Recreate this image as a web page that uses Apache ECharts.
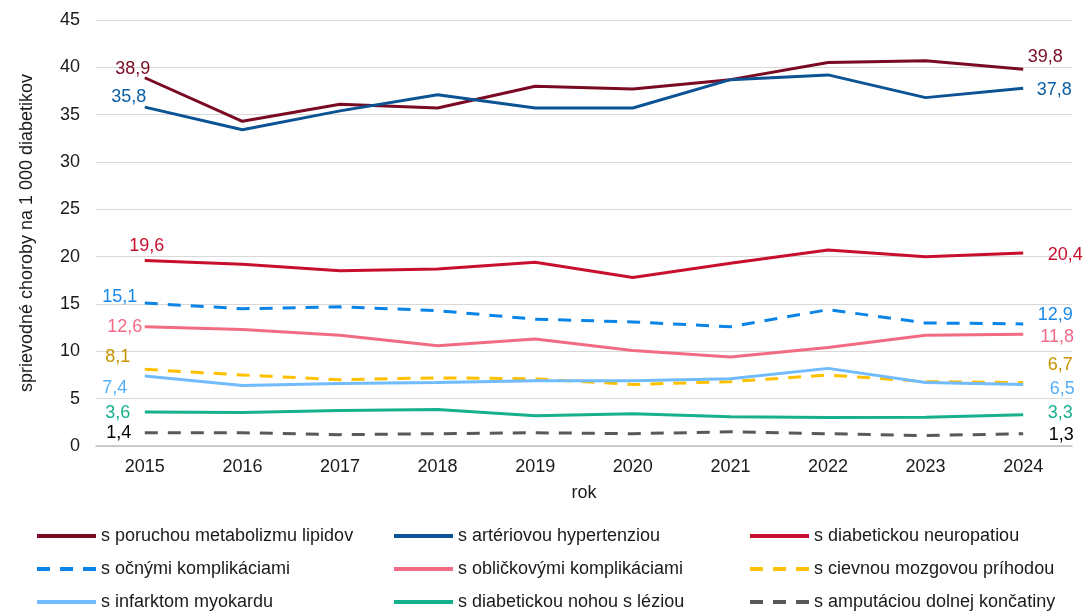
<!DOCTYPE html>
<html>
<head>
<meta charset="utf-8">
<script src="https://cdn.jsdelivr.net/npm/echarts@6/dist/echarts.min.js"></script>
<style>
  html, body { margin: 0; padding: 0; background: #fff; }
  #chart { width: 1085px; height: 612px; }
</style>
</head>
<body>
<div id="chart"></div>
<script>
(function () {
    'use strict';

    var years = ['2015', '2016', '2017', '2018', '2019', '2020', '2021', '2022', '2023', '2024'];

    var lipidy      = [38.9, 34.3, 36.1, 35.7, 38.0, 37.7, 38.7, 40.5, 40.7, 39.8];
    var hypertenzia = [35.8, 33.4, 35.4, 37.1, 35.7, 35.7, 38.7, 39.2, 36.8, 37.8];
    var neuropatia  = [19.6, 19.2, 18.5, 18.7, 19.4, 17.8, 19.3, 20.7, 20.0, 20.4];
    var ocne        = [15.1, 14.5, 14.7, 14.3, 13.4, 13.1, 12.6, 14.4, 13.0, 12.9];
    var oblickove   = [12.6, 12.3, 11.7, 10.6, 11.3, 10.1, 9.4, 10.4, 11.7, 11.8];
    var mozgove     = [8.1, 7.5, 7.0, 7.2, 7.1, 6.5, 6.8, 7.5, 6.8, 6.7];
    var infarkt     = [7.4, 6.4, 6.6, 6.7, 6.9, 6.9, 7.1, 8.2, 6.7, 6.5];
    var noha        = [3.6, 3.55, 3.75, 3.85, 3.2, 3.4, 3.1, 3.0, 3.05, 3.3];
    var amputacia   = [1.4, 1.4, 1.2, 1.3, 1.4, 1.3, 1.5, 1.3, 1.1, 1.3];

    var FONT = '"Liberation Sans", Arial, sans-serif';
    var FS = 18;

    // name, data, line colour, label colour, dashed, first label offset, last label offset, legend pos
    var defs = [
        ['s poruchou metabolizmu lipidov', lipidy, '#7A0A22', '#7A0A22', false, [-12, -9], [22, -12], [35, 0]],
        ['s artériovou hypertenziou', hypertenzia, '#0B5394', '#0B5FA5', false, [-16, -10], [31, 2], [392, 0]],
        ['s diabetickou neuropatiou', neuropatia, '#C8102E', '#C8102E', false, [2, -14], [42, 2], [748, 0]],
        ['s očnými komplikáciami', ocne, '#0A84E6', '#1A88E8', true, [-25, -6], [32, -9], [35, 1]],
        ['s obličkovými komplikáciami', oblickove, '#F26B84', '#F26B84', false, [-20, 0], [34, 3], [392, 1]],
        ['s cievnou mozgovou príhodou', mozgove, '#FFC000', '#C69400', true, [-27, -12], [37, -18], [748, 1]],
        ['s infarktom myokardu', infarkt, '#71BBFF', '#58AEF5', false, [-30, 12], [39, 5], [35, 2]],
        ['s diabetickou nohou s léziou', noha, '#17B08C', '#17B08C', false, [-27, 1], [37, -2], [392, 2]],
        ['s amputáciou dolnej končatiny', amputacia, '#595959', '#000000', true, [-26, 0], [38, 1], [748, 2]]
    ];

    function fmt(p) {
        return String(p.value).replace('.', ',');
    }

    function pointLabel(d, idx, off) {
        return {
            coord: [idx, d[1][idx]],
            value: d[1][idx],
            label: {
                show: true,
                position: 'inside',
                offset: off,
                color: d[3],
                fontSize: FS,
                fontFamily: FONT,
                formatter: fmt
            }
        };
    }

    var series = defs.map(function (d) {
        var last = d[1].length - 1;
        return {
            name: d[0],
            type: 'line',
            symbol: 'none',
            lineStyle: { color: d[2], width: 3, type: d[4] ? [13, 10] : 'solid' },
            itemStyle: { color: d[2] },
            data: d[1],
            markPoint: {
                symbol: 'circle',
                symbolSize: 0,
                silent: true,
                data: [pointLabel(d, 0, d[5]), pointLabel(d, last, d[6])]
            }
        };
    });

    var rowTops = [527, 560, 593];
    var legends = defs.map(function (d) {
        return {
            orient: 'horizontal',
            left: d[7][0],
            top: rowTops[d[7][1]],
            padding: 0,
            itemWidth: 59,
            itemHeight: 18,
            itemStyle: { opacity: 0 },
            lineStyle: { width: 4 },
            textStyle: { fontSize: FS, fontFamily: FONT, color: '#1a1a1a' },
            data: [d[0]]
        };
    });

    var chart = echarts.init(document.getElementById('chart'));
    chart.setOption({
        animation: false,
        backgroundColor: '#fff',
        grid: { left: 96, right: 13, top: 20, bottom: 166 },
        legend: legends,
        xAxis: {
            type: 'category',
            data: years,
            boundaryGap: true,
            name: 'rok',
            nameLocation: 'middle',
            nameGap: 38,
            nameTextStyle: { fontSize: FS, fontFamily: FONT, color: '#1a1a1a' },
            axisLine: { lineStyle: { color: '#BFBFBF', width: 1.5 } },
            axisTick: { show: false },
            axisLabel: { fontSize: FS, fontFamily: FONT, color: '#1a1a1a', margin: 12 }
        },
        yAxis: {
            type: 'value',
            min: 0,
            max: 45,
            interval: 5,
            name: 'sprievodné choroby na 1 000 diabetikov',
            nameLocation: 'middle',
            nameGap: 60,
            nameTextStyle: { fontSize: FS, fontFamily: FONT, color: '#1a1a1a' },
            axisLine: { show: false },
            axisTick: { show: false },
            axisLabel: { fontSize: FS, fontFamily: FONT, color: '#1a1a1a', margin: 16 },
            splitLine: { lineStyle: { color: '#D9D9D9', width: 1 } }
        },
        series: series
    });
})();
</script>
</body>
</html>
